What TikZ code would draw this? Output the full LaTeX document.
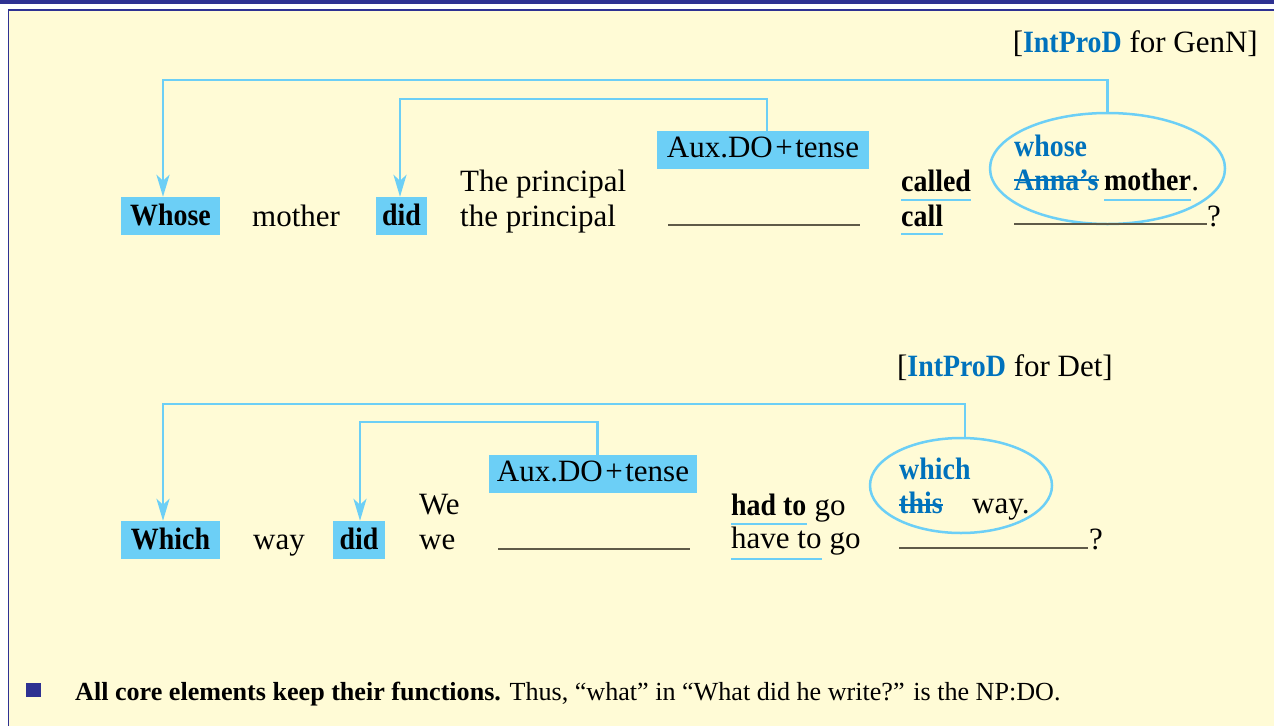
\documentclass[tikz,border=0pt]{standalone}
\usepackage{fontspec}
\setmainfont{Liberation Serif}
\newfontfamily\condfam{Liberation Serif}[FakeStretch=0.9]
\newcommand\boldc[1]{{\condfam\bfseries #1}}
\newcommand\auxlabel{Aux.DO\kern2.5pt+\kern2.5pt tense}
\usetikzlibrary{arrows.meta,shapes.geometric}
\definecolor{lblue}{RGB}{108,207,246}
\definecolor{dblue}{RGB}{0,114,188}
\definecolor{cream}{RGB}{255,251,214}
\definecolor{navy}{RGB}{46,49,146}
\definecolor{blankcol}{RGB}{95,90,72}
\tikzset{
  txt/.style={inner sep=0pt, anchor=base west, font=\fontsize{31}{37}\selectfont},
  wordbox/.style={fill=lblue, inner sep=0pt, text height=20.5pt, text depth=2.5pt,
    font=\fontsize{31}{37}\selectfont\condfam\bfseries},
  auxbox/.style={fill=lblue, inner sep=0pt, text height=20.5pt, text depth=6pt,
    minimum width=212pt, minimum height=38pt, font=\fontsize{31}{37}\selectfont},
  conn/.style={draw=lblue, line width=2.8pt, -{Stealth[length=22pt,width=13pt,inset=6pt]}},
  uline/.style={draw=lblue, line width=2.5pt},
  blankline/.style={draw=blankcol, line width=1.6pt},
  strike/.style={draw=dblue, line width=2pt},
  ring/.style={draw=lblue, line width=2.5pt, ellipse, inner sep=0pt}
}
\begin{document}
\begin{tikzpicture}[x=1pt,y=-1pt]
\useasboundingbox (0,0) rectangle (1274,726);
% frame
\fill[white] (0,0) rectangle (1274,726);
\fill[navy] (0,0) rectangle (1274,3.5);
\fill[cream] (8.5,10) rectangle (1274,726);
\draw[navy, line width=1.5pt] (8.5,726) -- (8.5,10) -- (1274,10);

% ---------- first example: genitive ----------
\node[txt, anchor=base east] (lab1) at (1258,52) {[\textcolor{dblue}{\boldc{IntProD}} for GenN]};

\node[wordbox, minimum width=99pt, minimum height=38pt] (whose) at (170.5,216) {Whose};
\node[txt] (mother1) at (252,226) {mother};
\node[wordbox, minimum width=51pt, minimum height=38pt] (did1) at (401.5,216) {did};
\node[txt] (subjA) at (460,191) {The principal};
\node[txt] (subjB) at (460,226) {the principal};
\node[auxbox] (aux1) at (763,150) {\auxlabel};
\coordinate (gapA1) at (668,225);
\coordinate (gapA2) at (860,225);
\draw[blankline] (gapA1) -- (gapA2);
\node[txt] (called) at (901,191) {\boldc{called}};
\node[txt] (call) at (901,226) {\boldc{call}};
\draw[uline] ([yshift=-9pt]called.base west) -- ([yshift=-9pt]called.base east);
\draw[uline] ([yshift=-8pt]call.base west) -- ([yshift=-8pt]call.base east);

\node[ring, minimum width=235pt, minimum height=111pt] (e1) at (1107.5,168.5) {};
\node[txt, text=dblue] (whoseB) at (1014,156) {\boldc{whose}};
\node[txt, text=dblue] (anna) at (1014,190) {\boldc{Anna’s}};
\draw[strike] ([yshift=10pt]anna.base west) -- ([yshift=10pt]anna.base east);
\node[txt] (mother2) at (1104,190) {\boldc{mother}};
\node[txt] (dot1) at (mother2.base east) {.};
\draw[uline] ([yshift=-10pt]mother2.base west) -- ([yshift=-10pt]mother2.base east);
\coordinate (gapB1) at (1014,224);
\coordinate (gapB2) at (1207,224);
\draw[blankline] (gapB1) -- (gapB2);
\node[txt] (q1) at (1207,226) {?};

\coordinate (top1) at (163,80);
\coordinate (top2) at (400,99);
\draw[conn] (e1.north) |- (top1) -- (top1 |- whose.north);
\draw[conn] (aux1.north -| 767,0) |- (top2) -- (top2 |- did1.north);

% ---------- second example: determiner ----------
\node[txt, anchor=base east] (lab2) at (1113,376) {[\textcolor{dblue}{\boldc{IntProD}} for Det]};

\node[wordbox, minimum width=99pt, minimum height=38pt] (which) at (170.5,540) {Which};
\node[txt] (way1) at (253,549) {way};
\node[wordbox, minimum width=52pt, minimum height=38pt] (did2) at (359,540) {did};
\node[txt] (we1) at (419,514) {We};
\node[txt] (we2) at (419,549) {we};
\node[auxbox, minimum width=208pt] (aux2) at (593,474) {\auxlabel};
\coordinate (gapC1) at (498,549);
\coordinate (gapC2) at (690,549);
\draw[blankline] (gapC1) -- (gapC2);
\node[txt] (hadto) at (731,515) {\boldc{had to}};
\node[txt] (go1) at (hadto.base east) {\ go};
\draw[uline] ([yshift=-9pt]hadto.base west) -- ([yshift=-9pt]hadto.base east);
\node[txt] (haveto) at (731,548) {have to};
\node[txt] (go2) at (haveto.base east) {\ go};
\draw[uline] ([yshift=-11pt]haveto.base west) -- ([yshift=-11pt]haveto.base east);

\node[ring, minimum width=182pt, minimum height=95pt] (e2) at (961,485.5) {};
\node[txt, text=dblue] (whichB) at (899,479) {\boldc{which}};
\node[txt, text=dblue] (this) at (899,513) {\boldc{this}};
\draw[strike] ([yshift=8pt]this.base west) -- ([yshift=8pt]this.base east);
\node[txt] (way2) at (972,513) {way.};
\coordinate (gapD1) at (899,548);
\coordinate (gapD2) at (1088,548);
\draw[blankline] (gapD1) -- (gapD2);
\node[txt] (q2) at (1089,549) {?};

\coordinate (top3) at (163,404);
\coordinate (top4) at (360,422);
\draw[conn] (e2.north -| 965,0) |- (top3) -- (top3 |- which.north);
\draw[conn] (aux2.north -| 597.7,0) |- (top4) -- (top4 |- did2.north);

% ---------- note ----------
\fill[navy] (26,683) rectangle (41,697);
\node[txt, font=\fontsize{26.1}{32}\selectfont] (note) at (75,700)
  {\textbf{All core elements keep their functions.} Thus, “what” in “What did he write?” is the NP:DO.};
\end{tikzpicture}
\end{document}
